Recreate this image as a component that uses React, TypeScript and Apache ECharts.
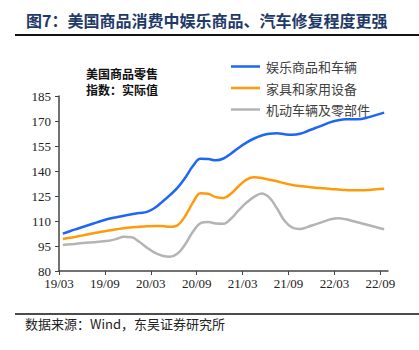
import React, { useEffect, useRef } from "react";
import * as echarts from "echarts";

const TITLE = "图7：美国商品消费中娱乐商品、汽车修复程度更强";
const SOURCE = "数据来源：Wind，东吴证券研究所";
const NOTE = ["美国商品零售", "指数：实际值"];
const SERIES_NAMES = ["娱乐商品和车辆", "家具和家用设备", "机动车辆及零部件"];
const COLORS = ["#1E66F5", "#FF9A0A", "#B4B4B4"];

const START_YEAR = 2019;
const START_MONTH = 3;
const TOTAL_MONTHS = 43;

const recreation = [
  102.4, 104, 105.5, 107, 108.5, 110, 111.3, 112.3, 113.2, 114, 114.8, 115.5, 117.8,
  121.5, 125.5, 130, 136, 143, 147.3, 147.2, 146.4, 147.5, 150.5, 154, 157, 159.5,
  161.3, 162.4, 162.6, 162, 161.7, 162.3, 164, 165.8, 167.5, 169.3, 170.5, 171, 171,
  171.2, 172.3, 173.7, 175,
];
const furniture = [
  99.2, 100, 100.8, 101.7, 102.6, 103.5, 104.3, 105, 105.7, 106.2, 106.6, 106.8, 107,
  107, 106.5, 107.5, 113, 121, 126.7, 126.3, 124.3, 123.8, 126.5, 131, 134.8, 136.2,
  135.8, 134.8, 133.8, 132.6, 131.6, 131, 130.5, 130, 129.6, 129.2, 128.9, 128.6,
  128.4, 128.4, 128.6, 129, 129.4,
];
const vehicles = [
  95.6, 96, 96.5, 96.9, 97.3, 97.7, 98.2, 99.2, 100.5, 100.2, 97.5, 94, 91, 89.2, 88.6,
  90.5, 96, 103.5, 108.7, 109.4, 108.5, 108.4, 111.5, 116.5, 121, 124.5, 126.5, 124,
  117.5, 110, 106, 105.2, 106.5, 108, 109.5, 111, 111.6, 111, 109.8, 108.6, 107.4,
  106.2, 105,
];

function monthLabel(idx: number): string {
  const total = START_MONTH - 1 + idx;
  const y = START_YEAR + Math.floor(total / 12);
  const m = (total % 12) + 1;
  return String(y).slice(2) + "/" + (m < 10 ? "0" + m : String(m));
}

export default function App() {
  const ref = useRef<HTMLDivElement>(null);
  useEffect(() => {
    if (!ref.current) return;
    document.body.style.margin = "0";
    const chart = echarts.init(ref.current, null, { renderer: "svg" });
    const toPairs = (arr: number[]) => arr.map((v, i) => [i + 0.5, v]);
    const serif = "'Liberation Serif', 'Noto Sans CJK SC', serif";
    const cjk = "'Noto Sans CJK SC', sans-serif";
    chart.setOption({
      animation: false,
      backgroundColor: "#ffffff",
      grid: { left: 59, top: 96, right: 31, bottom: 79, containLabel: false },
      xAxis: {
        type: "value",
        min: 0,
        max: TOTAL_MONTHS,
        interval: 6,
        axisLine: { show: true, lineStyle: { color: "#444", width: 1.5 } },
        axisTick: { show: true, length: 4, lineStyle: { color: "#444" } },
        splitLine: { show: false },
        axisLabel: {
          formatter: (v: number) => monthLabel(v),
          color: "#222",
          fontFamily: serif,
          fontSize: 13,
          margin: 6,
          showMaxLabel: false,
        },
      },
      yAxis: {
        type: "value",
        min: 80,
        max: 185,
        interval: 15,
        axisLine: { show: true, lineStyle: { color: "#444", width: 1.5 } },
        axisTick: { show: true, length: 4, lineStyle: { color: "#444" } },
        splitLine: { show: false },
        axisLabel: { color: "#222", fontFamily: serif, fontSize: 13, margin: 8 },
      },
      legend: {
        orient: "vertical",
        left: 226,
        top: 55,
        icon: "rect",
        itemWidth: 29,
        itemHeight: 2.5,
        itemGap: 8.5,
        textStyle: { fontFamily: cjk, fontSize: 13, color: "#404040", padding: [0, 0, 0, 1] },
        data: SERIES_NAMES,
      },
      series: [recreation, furniture, vehicles].map((arr, k) => ({
        name: SERIES_NAMES[k],
        type: "line",
        data: toPairs(arr),
        smooth: 0.4,
        symbol: "none",
        lineStyle: { color: COLORS[k], width: 2.5 },
        itemStyle: { color: COLORS[k] },
      })),
      graphic: [
        {
          type: "text",
          x: 26,
          y: 20,
          style: {
            text: TITLE,
            fontFamily: cjk,
            fontWeight: "bold",
            fontSize: 16,
            fill: "#1F3A68",
            verticalAlign: "middle",
          },
        },
        {
          type: "line",
          shape: { x1: 15, y1: 35, x2: 419, y2: 35 },
          style: { stroke: "#111", lineWidth: 2 },
        },
        {
          type: "text",
          x: 122,
          y: 73,
          style: {
            text: NOTE[0],
            fontFamily: cjk,
            fontWeight: "bold",
            fontSize: 12,
            fill: "#111",
            align: "center",
            verticalAlign: "middle",
          },
        },
        {
          type: "text",
          x: 122,
          y: 89.5,
          style: {
            text: NOTE[1],
            fontFamily: cjk,
            fontWeight: "bold",
            fontSize: 12,
            fill: "#111",
            align: "center",
            verticalAlign: "middle",
          },
        },
        {
          type: "line",
          shape: { x1: 15, y1: 314, x2: 419, y2: 314 },
          style: { stroke: "#111", lineWidth: 1.5 },
        },
        {
          type: "text",
          x: 25,
          y: 323,
          style: {
            text: SOURCE,
            fontFamily: cjk,
            fontSize: 13,
            fill: "#222",
            verticalAlign: "middle",
          },
        },
      ],
    });
    return () => chart.dispose();
  }, []);
  return <div ref={ref} style={{ width: 419, height: 350 }} />;
}
